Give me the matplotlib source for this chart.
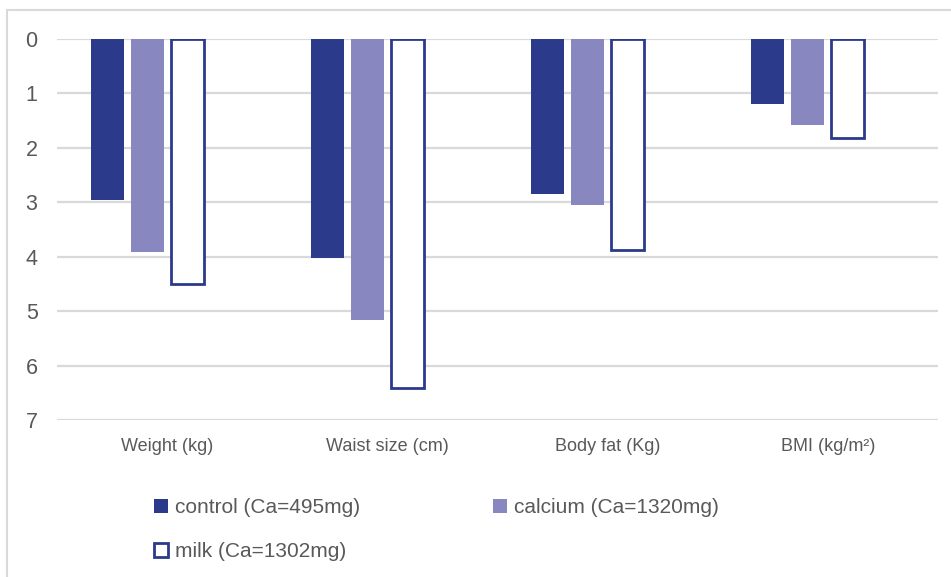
import matplotlib.pyplot as plt
from matplotlib.patches import Rectangle
import numpy as np

# Values (reductions)
categories = ['Weight (kg)', 'Waist size (cm)', 'Body fat (Kg)', 'BMI (kg/m²)']
control = [2.95, 4.02, 2.84, 1.19]
calcium = [3.92, 5.16, 3.05, 1.58]
milk = [4.51, 6.42, 3.87, 1.81]
series_names = ['control (Ca=495mg)', 'calcium (Ca=1320mg)', 'milk (Ca=1302mg)']

navy = '#2B3A8A'
lilac = '#8987BF'
grid_col = '#D9D9D9'
text_col = '#595959'

plt.rcParams['font.family'] = ['Liberation Sans', 'DejaVu Sans']

W, H = 951, 577
fig = plt.figure(figsize=(W / 100, H / 100), dpi=100)

# chart area border (Excel style)
fig.patches.append(Rectangle((6.5 / W, -0.1), 1.2, 1 - 10 / H + 0.1,
                             transform=fig.transFigure, fill=False,
                             edgecolor=grid_col, linewidth=1.5))

ax = fig.add_axes([57 / W, 1 - 420 / H, (938 - 57) / W, (420 - 39) / H])

x = np.arange(len(categories))
w = 0.15
step = 0.1816
b1 = ax.bar(x - 1.5 * step, control, w, color=navy, zorder=3)
b2 = ax.bar(x - 0.5 * step, calcium, w, color=lilac, zorder=3)
b3 = ax.bar(x + 0.5 * step, milk, w, facecolor='white', edgecolor=navy,
            linewidth=2, zorder=3)

ax.set_xlim(-0.5, 3.5)
ax.set_ylim(7, 0)
ax.set_yticks(range(0, 8))
ax.set_xticks(x)
ax.set_xticklabels(categories)
ax.yaxis.grid(True, color=grid_col, linewidth=1.6, zorder=0)
ax.set_axisbelow(True)
for s in ax.spines.values():
    s.set_visible(False)
ax.tick_params(axis='y', length=0, pad=14, labelsize=15.5, labelcolor=text_col)
ax.tick_params(axis='x', length=0, pad=13, labelsize=13, labelcolor=text_col)

# legend: control, calcium on first row, milk below
leg = fig.legend([b1, b3, b2], [series_names[0], series_names[2], series_names[1]],
                 ncol=2, loc='upper left',
                 bbox_to_anchor=(154 / W, 1 - 498 / H),
                 frameon=False, fontsize=15, borderpad=0, borderaxespad=0,
                 handlelength=0.65, handleheight=0.65, handletextpad=0.35,
                 columnspacing=6.4, labelspacing=1.2, labelcolor=text_col)

fig.savefig('out.png', dpi=100)
